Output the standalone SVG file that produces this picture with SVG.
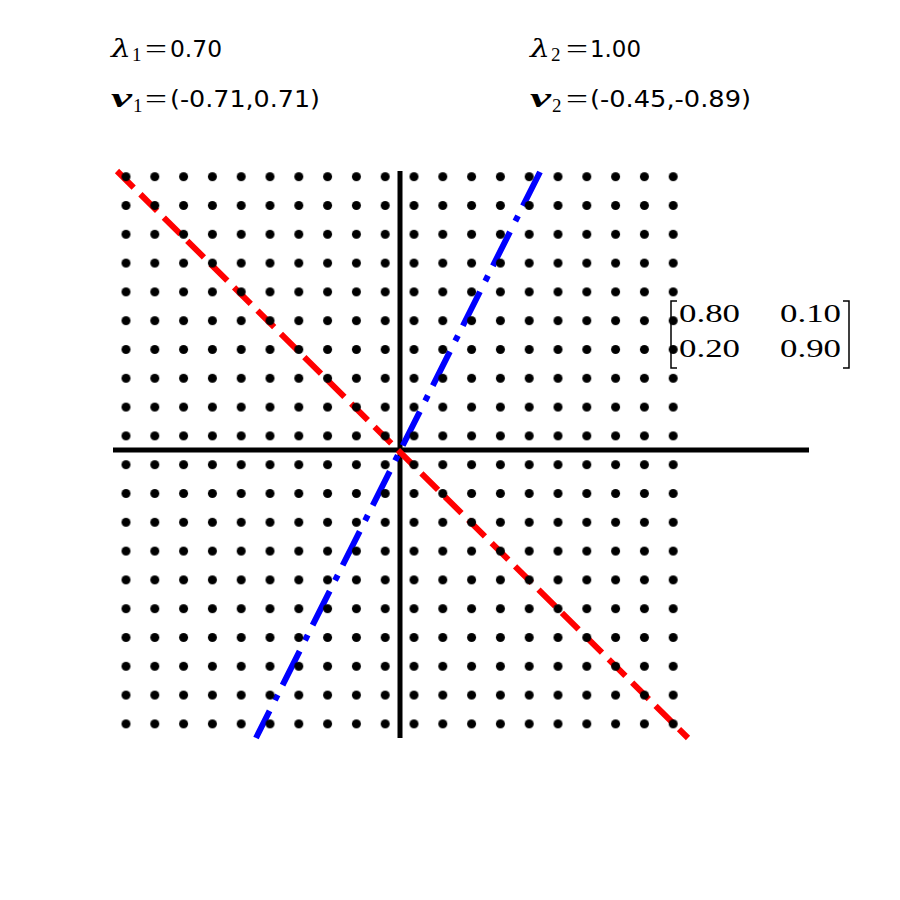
<svg xmlns="http://www.w3.org/2000/svg" width="900" height="900" viewBox="0 0 900 900">
<style>
.num{font-family:"DejaVu Sans",sans-serif;font-size:23px;fill:#000}
.sym{font-family:"DejaVu Serif","Liberation Serif",serif;font-style:italic;font-size:25px;fill:#000}
.vec{font-family:"Liberation Serif","DejaVu Serif",serif;font-style:italic;font-weight:bold;font-size:27px;fill:#000}
.sub{font-family:"Liberation Serif","DejaVu Serif",serif;font-size:19px;fill:#000}
.eq{font-family:"Liberation Serif","DejaVu Serif",serif;font-size:27px;fill:#000}
.mat{font-family:"Liberation Serif","DejaVu Serif",serif;font-size:25px;fill:#000}
.axis{stroke:#000;stroke-width:5;fill:none}
</style>
<defs>
<pattern id="dots" patternUnits="userSpaceOnUse" x="111.6" y="162.3" width="28.8" height="28.8">
<circle cx="14.4" cy="14.4" r="4.5" fill="#000"/>
</pattern>
</defs>
<rect width="900" height="900" fill="#fff"/>
<g id="labels">
<text class="sym" x="111" y="57" textLength="20" lengthAdjust="spacingAndGlyphs">λ</text>
<text class="sub" x="132" y="61">1</text>
<text class="eq" x="145" y="58" textLength="22" lengthAdjust="spacingAndGlyphs">=</text>
<text class="num" x="170" y="57" textLength="52" lengthAdjust="spacingAndGlyphs">0.70</text>
<text class="vec" x="111" y="107" textLength="21" lengthAdjust="spacingAndGlyphs">v</text>
<text class="sub" x="133" y="112">1</text>
<text class="eq" x="145" y="108" textLength="22" lengthAdjust="spacingAndGlyphs">=</text>
<text class="num" x="170" y="107" textLength="150" lengthAdjust="spacingAndGlyphs">(-0.71,0.71)</text>
<text class="sym" x="530" y="57" textLength="20" lengthAdjust="spacingAndGlyphs">λ</text>
<text class="sub" x="551" y="61">2</text>
<text class="eq" x="566" y="58" textLength="22" lengthAdjust="spacingAndGlyphs">=</text>
<text class="num" x="590" y="57" textLength="51" lengthAdjust="spacingAndGlyphs">1.00</text>
<text class="vec" x="530" y="107" textLength="21" lengthAdjust="spacingAndGlyphs">v</text>
<text class="sub" x="552" y="112">2</text>
<text class="eq" x="566" y="108" textLength="22" lengthAdjust="spacingAndGlyphs">=</text>
<text class="num" x="590" y="107" textLength="161" lengthAdjust="spacingAndGlyphs">(-0.45,-0.89)</text>
</g>
<g id="axes">
<line class="axis" x1="113" y1="450" x2="809" y2="450"/>
<line class="axis" x1="400" y1="171" x2="400" y2="738"/>
</g>
<g id="connectors">
<line x1="117" y1="171" x2="688" y2="738" stroke="#f00" stroke-width="6" stroke-dasharray="23.5 9.5"/>
<line x1="540" y1="172" x2="256" y2="738" stroke="#00f" stroke-width="6" stroke-dasharray="38 11 6 12"/>
</g>
<g id="grid">
<rect x="111.6" y="162.3" width="576" height="576" fill="url(#dots)"/>
</g>
<g id="matrix">
<path d="M677,301 H671 V368 H677 M843,301 H849 V368 H843" fill="none" stroke="#000" stroke-width="1.5"/>
<text class="mat" x="679" y="322" textLength="61" lengthAdjust="spacingAndGlyphs">0.80</text>
<text class="mat" x="780" y="322" textLength="61" lengthAdjust="spacingAndGlyphs">0.10</text>
<text class="mat" x="679" y="357" textLength="61" lengthAdjust="spacingAndGlyphs">0.20</text>
<text class="mat" x="780" y="357" textLength="61" lengthAdjust="spacingAndGlyphs">0.90</text>
</g>
</svg>
